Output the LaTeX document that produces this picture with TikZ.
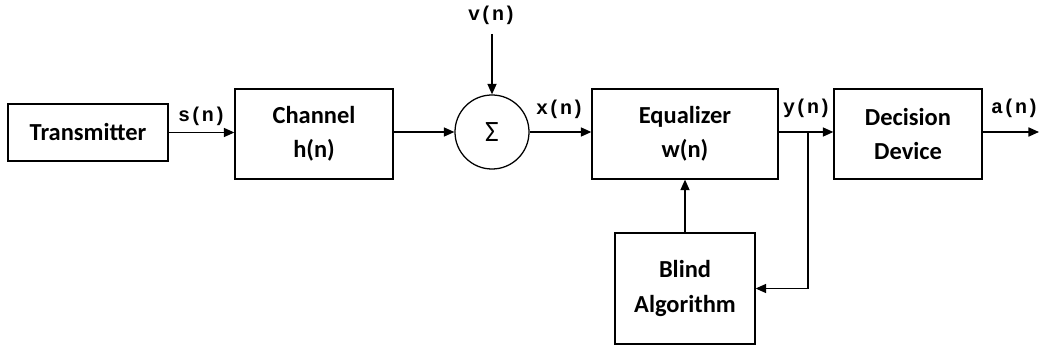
\documentclass[tikz,border=0pt]{standalone}
\usepackage{fontspec}
\setmainfont{Carlito}
\setmonofont{Liberation Mono}
\usetikzlibrary{positioning,arrows.meta}

\tikzset{
  blk/.style={draw,line width=0.9pt,align=center,inner sep=2pt,
    font=\fontsize{17.4}{24.5}\selectfont\bfseries},
  sig/.style={font=\ttfamily\bfseries\fontsize{14.2}{16}\selectfont,inner sep=1pt},
  wire/.style={->,line width=0.9pt}
}

\begin{document}
\begin{tikzpicture}[x=0.025cm,y=-0.025cm,>={Triangle[length=7.5pt,width=6.5pt]}]
  \useasboundingbox (0,0) rectangle (1040,354);
  % blocks
  \node[blk,minimum width=4cm,minimum height=1.425cm] (tx) at (88,132.5) {Transmitter};
  \node[blk,minimum width=3.95cm,minimum height=2.25cm] (ch) at (314,134) {Channel\\h(n)};
  \node[draw,circle,line width=0.9pt,minimum size=1.85cm,inner sep=0pt,
    font=\fontsize{21}{21}\selectfont] (sum) at (492,132) {Σ};
  \node[blk,minimum width=4.65cm,minimum height=2.25cm] (eq) at (685,134) {Equalizer\\w(n)};
  \node[blk,minimum width=3.7cm,minimum height=2.25cm] (dd) at (908,134) {Decision\\Device};
  \node[blk,minimum width=3.5cm,minimum height=2.775cm] (ba) at (685,288.5) {Blind\\Algorithm};
  % free ends
  \coordinate (vin) at (492,34);
  \coordinate (out) at (1039,132);
  \coordinate (jn) at (808,132);
  % labels
  \node[sig] (vlbl) at (492,15) {v(n)};
  \node[sig] (slbl) at (202,116) {s(n)};
  \node[sig] (xlbl) at (560,109) {x(n)};
  \node[sig] (ylbl) at (807,108) {y(n)};
  \node[sig] (albl) at (1015,108) {a(n)};
  % connectors
  \draw[wire] (tx.east) -- (tx.east -| ch.west);
  \draw[wire] (ch.east |- sum) -- (sum.west);
  \draw[wire] (vin) -- (sum.north);
  \draw[wire] (sum.east) -- (sum.east -| eq.west);
  \draw[wire] (eq.east |- jn) -- (jn -| dd.west);
  \draw[wire] (dd.east |- out) -- (out);
  \draw[wire] (ba.north) -- (eq.south);
  \draw[wire] (jn) |- (ba.east);
\end{tikzpicture}
\end{document}
